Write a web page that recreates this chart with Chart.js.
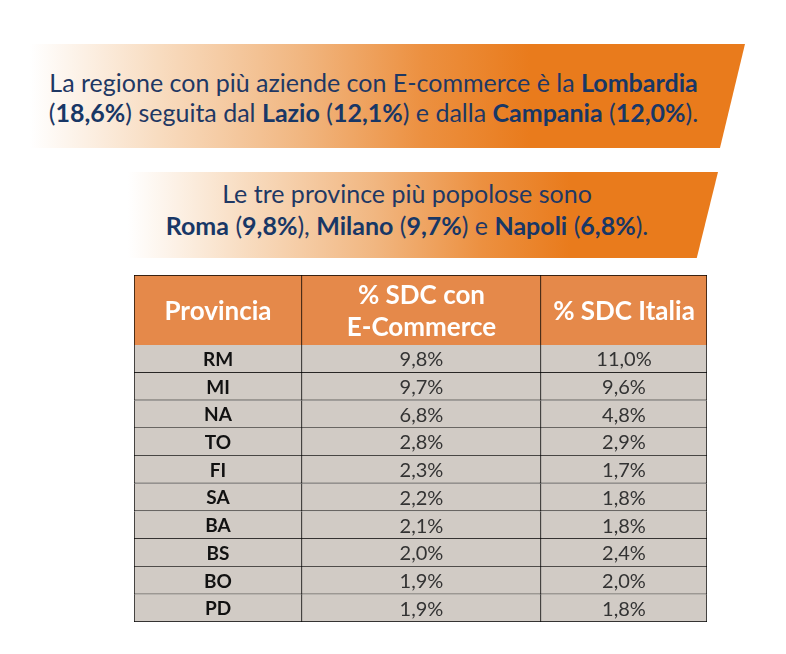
<!DOCTYPE html>
<html>
<head>
<meta charset="utf-8">
<script src="https://cdn.jsdelivr.net/npm/chart.js@4"></script>
<style>
  body { margin:0; width:786px; height:654px; background:#fff; position:relative; overflow:hidden; font-family: Lato, 'Open Sans', sans-serif; }
  .banner { position:absolute; color:#1f3864; text-align:center; }
  .banner b { color:#183766; }
  #b1 { left:30px; top:44px; width:715px; height:104px;
        background:linear-gradient(90deg, #fff 0%, #f8dcc0 18%, #f1b680 38%, #ec9040 55%, #e97b1c 70%, #e97b1c 100%);
        clip-path:polygon(0 0, 100% 0, 96.5% 100%, 0 100%); }
  #b2 { left:128px; top:172px; width:590px; height:86px;
        background:linear-gradient(90deg, #fff 0%, #f8dcc0 20%, #f1b680 42%, #ec9040 60%, #e97b1c 75%, #e97b1c 100%);
        clip-path:polygon(0 0, 100% 0, 96.4% 100%, 0 100%); }
  .t { position:absolute; left:0; right:0; font-size:25px; line-height:30px; white-space:nowrap; }
  #hdr { position:absolute; left:133px; top:274px; }
  #body { position:absolute; left:133px; top:344px; }
</style>
</head>
<body>
<div class="banner" id="b1">
  <div class="t" style="top:23px; left:-14px; right:14px;">La regione con più aziende con E-commerce è la <b>Lombardia</b></div>
  <div class="t" style="top:53px; left:-14px; right:14px;">(<b>18,6%</b>) seguita dal <b>Lazio</b> (<b>12,1%</b>) e dalla <b>Campania</b> (<b>12,0%</b>).</div>
</div>
<div class="banner" id="b2">
  <div class="t" style="top:6px; left:-16px; right:16px;">Le tre province più popolose sono</div>
  <div class="t" style="top:38px; left:-16px; right:16px;"><b>Roma</b> (<b>9,8%</b>), <b>Milano</b> (<b>9,7%</b>) e <b>Napoli</b> (<b>6,8%</b>).</div>
</div>
<canvas id="hdr" width="575" height="73"></canvas>
<canvas id="body" width="575" height="279"></canvas>
<script>
const headers = [['Provincia'], ['% SDC con', 'E-Commerce'], ['% SDC Italia']];
const provinces = ['RM','MI','NA','TO','FI','SA','BA','BS','BO','PD'];
const sdcEcommerce = [9.8, 9.7, 6.8, 2.8, 2.3, 2.2, 2.1, 2.0, 1.9, 1.9];
const sdcItalia = [11.0, 9.6, 4.8, 2.9, 1.7, 1.8, 1.8, 2.4, 2.0, 1.8];

// layout: column widths in px of the table
const colWidths = [168, 239, 166];
const edges = [0];
colWidths.forEach(w => edges.push(edges[edges.length - 1] + w));
const tableWidth = edges[edges.length - 1];

const fmt = v => v.toFixed(1).replace('.', ',') + '%';

function cellBorder(col, firstRow) {
  return ctx => ({ top: (firstRow && ctx.dataIndex === 0) ? 1 : 0, left: col === 0 ? 1 : 0, right: 1, bottom: 1 });
}

const cellText = {
  id: 'cellText',
  afterDatasetsDraw(chart) {
    const ctx = chart.ctx;
    ctx.save();
    ctx.textAlign = 'center';
    ctx.textBaseline = 'middle';
    chart.data.datasets.forEach((ds, di) => {
      chart.getDatasetMeta(di).data.forEach((el, i) => {
        const c = el.getCenterPoint();
        const lines = ds.texts[i];
        ctx.font = ds.textFont;
        ctx.fillStyle = ds.textColor;
        const lh = ds.lineHeight;
        lines.forEach((ln, k) => {
          ctx.fillText(ln, c.x, c.y + (k - (lines.length - 1) / 2) * lh + 1);
        });
      });
    });
    ctx.restore();
  }
};

function baseOptions() {
  return {
    indexAxis: 'y',
    responsive: false,
    animation: false,
    layout: { padding: 1 },
    plugins: { legend: { display: false }, tooltip: { enabled: false } },
    scales: {
      x: { type: 'linear', min: 0, max: tableWidth, display: false },
      y: { display: false }
    }
  };
}

new Chart(document.getElementById('hdr'), {
  type: 'bar',
  data: {
    labels: ['header'],
    datasets: headers.map((h, col) => ({
      data: [[edges[col], edges[col + 1]]],
      texts: [h],
      textFont: 'bold 26px Lato, sans-serif',
      textColor: '#ffffff',
      lineHeight: 32,
      backgroundColor: '#e5894a',
      borderColor: '#000',
      borderWidth: cellBorder(col, true),
      borderSkipped: false,
      barPercentage: 1,
      categoryPercentage: 1,
      grouped: false
    }))
  },
  options: baseOptions(),
  plugins: [cellText]
});

const bodyCols = [
  { texts: provinces.map(p => [p]), font: 'bold 19px Lato, sans-serif', color: '#111' },
  { texts: sdcEcommerce.map(v => [fmt(v)]), font: '20px Lato, sans-serif', color: '#333' },
  { texts: sdcItalia.map(v => [fmt(v)]), font: '20px Lato, sans-serif', color: '#333' }
];

new Chart(document.getElementById('body'), {
  type: 'bar',
  data: {
    labels: provinces,
    datasets: bodyCols.map((bc, col) => ({
      data: provinces.map(() => [edges[col], edges[col + 1]]),
      texts: bc.texts,
      textFont: bc.font,
      textColor: bc.color,
      lineHeight: 20,
      backgroundColor: '#d1cbc5',
      borderColor: '#000',
      borderWidth: cellBorder(col, false),
      borderSkipped: false,
      barPercentage: 1,
      categoryPercentage: 1,
      grouped: false
    }))
  },
  options: baseOptions(),
  plugins: [cellText]
});
</script>
</body>
</html>
